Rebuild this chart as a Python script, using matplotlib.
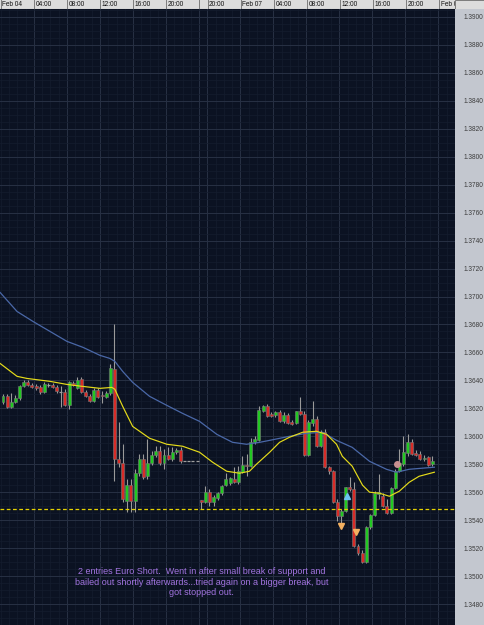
import numpy as np
import matplotlib.pyplot as plt
from matplotlib.patches import Rectangle

# 30-minute EUR/USD candles, Feb 04 -> Feb 07
opens = [1.36243, 1.36286, 1.36207, 1.36243, 1.36271, 1.36357, 1.36386, 1.36364, 1.36357, 1.36350,
         1.36314, 1.36364, 1.36364, 1.36350, 1.36314, 1.36314, 1.36221, 1.36379, 1.36343, 1.36407,
         1.36314, 1.36286, 1.36250, 1.36329, 1.36293, 1.36279, 1.36307, 1.36479, 1.35836, 1.35807,
         1.35536, 1.35650, 1.35536, 1.35736, 1.35836, 1.35714, 1.35807, 1.35864, 1.35893, 1.35807,
         1.35864, 1.35836, 1.35886, 1.35900, 1.35821, 1.35821, 1.35821, 1.35821, 1.35543, 1.35529,
         1.35600, 1.35529, 1.35557, 1.35593, 1.35650, 1.35664, 1.35693, 1.35671, 1.35743, 1.35793,
         1.35786, 1.35957, 1.35971, 1.36179, 1.36214, 1.36157, 1.36150, 1.36171, 1.36107, 1.36150,
         1.36100, 1.36093, 1.36179, 1.36157, 1.35864, 1.36093, 1.36121, 1.35929, 1.36029, 1.35779,
         1.35750, 1.35529, 1.35429, 1.35464, 1.35636, 1.35621, 1.35214, 1.35164, 1.35100, 1.35350,
         1.35436, 1.35586, 1.35571, 1.35500, 1.35450, 1.35629, 1.35750, 1.35800, 1.35879, 1.35957,
         1.35879, 1.35871, 1.35836, 1.35850, 1.35800]
highs = [1.36300, 1.36300, 1.36307, 1.36293, 1.36364, 1.36400, 1.36400, 1.36379, 1.36371, 1.36364,
         1.36386, 1.36379, 1.36379, 1.36364, 1.36357, 1.36336, 1.36393, 1.36393, 1.36421, 1.36421,
         1.36329, 1.36300, 1.36343, 1.36343, 1.36321, 1.36321, 1.36514, 1.36800, 1.36100, 1.35943,
         1.35693, 1.35693, 1.35764, 1.35871, 1.35871, 1.35979, 1.35893, 1.35929, 1.35929, 1.35907,
         1.35921, 1.35921, 1.35914, 1.35921, 1.35821, 1.35821, 1.35821, 1.35821, 1.35543, 1.35643,
         1.35621, 1.35579, 1.35600, 1.35650, 1.35736, 1.35707, 1.35779, 1.35786, 1.35857, 1.35871,
         1.35986, 1.36000, 1.36214, 1.36221, 1.36229, 1.36171, 1.36179, 1.36186, 1.36171, 1.36164,
         1.36114, 1.36179, 1.36279, 1.36179, 1.36114, 1.36250, 1.36143, 1.36043, 1.36050, 1.35786,
         1.35757, 1.35550, 1.35479, 1.35636, 1.35707, 1.35671, 1.35229, 1.35186, 1.35357, 1.35443,
         1.35607, 1.35729, 1.35593, 1.35550, 1.35636, 1.35764, 1.35907, 1.36000, 1.36014, 1.35979,
         1.35900, 1.35893, 1.35864, 1.35857, 1.35857]
lows = [1.36229, 1.36200, 1.36200, 1.36236, 1.36257, 1.36350, 1.36357, 1.36343, 1.36329, 1.36300,
        1.36307, 1.36350, 1.36343, 1.36307, 1.36207, 1.36214, 1.36193, 1.36357, 1.36336, 1.36307,
        1.36279, 1.36243, 1.36243, 1.36271, 1.36236, 1.36271, 1.36293, 1.35679, 1.35779, 1.35529,
        1.35457, 1.35457, 1.35457, 1.35714, 1.35693, 1.35693, 1.35793, 1.35850, 1.35793, 1.35764,
        1.35829, 1.35821, 1.35871, 1.35807, 1.35821, 1.35821, 1.35821, 1.35821, 1.35479, 1.35521,
        1.35500, 1.35500, 1.35543, 1.35579, 1.35643, 1.35650, 1.35664, 1.35657, 1.35736, 1.35714,
        1.35779, 1.35943, 1.35964, 1.36171, 1.36136, 1.36136, 1.36136, 1.36100, 1.36093, 1.36086,
        1.36079, 1.36086, 1.36150, 1.35857, 1.35857, 1.36071, 1.35921, 1.35921, 1.35771, 1.35729,
        1.35521, 1.35393, 1.35357, 1.35457, 1.35607, 1.35207, 1.35150, 1.35093, 1.35093, 1.35336,
        1.35429, 1.35550, 1.35493, 1.35443, 1.35443, 1.35621, 1.35743, 1.35786, 1.35857, 1.35864,
        1.35857, 1.35829, 1.35821, 1.35786, 1.35786]
closes = [1.36286, 1.36207, 1.36243, 1.36271, 1.36357, 1.36386, 1.36364, 1.36350, 1.36343, 1.36314,
          1.36371, 1.36364, 1.36350, 1.36321, 1.36314, 1.36221, 1.36386, 1.36364, 1.36400, 1.36314,
          1.36286, 1.36250, 1.36329, 1.36279, 1.36286, 1.36307, 1.36486, 1.35836, 1.35807, 1.35550,
          1.35650, 1.35536, 1.35736, 1.35836, 1.35707, 1.35807, 1.35864, 1.35893, 1.35807, 1.35864,
          1.35836, 1.35886, 1.35900, 1.35821, 1.35821, 1.35821, 1.35821, 1.35821, 1.35529, 1.35600,
          1.35529, 1.35564, 1.35593, 1.35643, 1.35693, 1.35700, 1.35671, 1.35750, 1.35793, 1.35786,
          1.35957, 1.35979, 1.36186, 1.36214, 1.36143, 1.36143, 1.36171, 1.36107, 1.36150, 1.36093,
          1.36086, 1.36179, 1.36157, 1.35864, 1.36100, 1.36121, 1.35929, 1.36029, 1.35779, 1.35750,
          1.35529, 1.35429, 1.35464, 1.35636, 1.35621, 1.35214, 1.35164, 1.35100, 1.35350, 1.35436,
          1.35593, 1.35600, 1.35500, 1.35450, 1.35629, 1.35750, 1.35807, 1.35886, 1.35957, 1.35871,
          1.35864, 1.35836, 1.35843, 1.35793, 1.35821]

# moving averages (bar position, price)
slow_ma_x = [-0.7, 3.4, 7.3, 11.4, 15.5, 19.4, 23.5, 25.9, 27.1, 29.0, 31.4, 35.5, 39.7, 43.5, 47.6,
             51.8, 55.6, 59.0, 62.2, 64.6, 69.4, 73.5, 77.4, 80.8, 84.6, 88.8, 92.9, 95.3, 98.4, 104.5]
slow_ma = [1.37029, 1.36893, 1.36821, 1.36750, 1.36679, 1.36636, 1.36579, 1.36557, 1.36536, 1.36464,
           1.36386, 1.36286, 1.36221, 1.36164, 1.36107, 1.36014, 1.35957, 1.35943, 1.35957, 1.35971,
           1.36000, 1.36021, 1.36029, 1.35971, 1.35921, 1.35821, 1.35764, 1.35743, 1.35764, 1.35779]
fast_ma_x = [-0.7, 3.4, 5.8, 11.4, 15.5, 19.3, 23.5, 26.4, 27.1, 29.0, 31.4, 35.5, 39.7, 43.5, 47.6,
             50.8, 54.2, 57.3, 59.7, 61.4, 64.6, 67.0, 69.4, 72.6, 75.9, 78.4, 80.8, 82.2, 84.6, 87.1,
             88.8, 91.2, 93.6, 96.0, 98.4, 100.8, 104.5]
fast_ma = [1.36521, 1.36429, 1.36414, 1.36393, 1.36371, 1.36357, 1.36343, 1.36350, 1.36336, 1.36214,
           1.36071, 1.35986, 1.35943, 1.35929, 1.35886, 1.35814, 1.35750, 1.35736, 1.35750, 1.35800,
           1.35886, 1.35957, 1.35993, 1.36029, 1.36036, 1.36014, 1.35943, 1.35857, 1.35786, 1.35650,
           1.35600, 1.35593, 1.35571, 1.35607, 1.35671, 1.35714, 1.35743]

support = 1.35479

# trade signals (bar position, price)
sell_x = [81.9, 85.4]
sell_y = [1.35357, 1.35314]
buy_x = [83.4]
buy_y = [1.35571]
exit_x = [95.5]
exit_y = [1.35800]

time_labels = ["Feb 04", "04:00", "08:00", "12:00", "16:00", "20:00", "", "20:00",
               "Feb 07", "04:00", "08:00", "12:00", "16:00", "20:00", "Feb 08"]
time_pos = [-0.5, 7.5, 15.5, 23.5, 31.5, 39.5, 47.5, 49.5, 57.5, 65.5, 73.5, 81.5, 89.5, 97.5, 105.5]

price_ticks = np.arange(1.3480, 1.39001, 0.002)

note = ("2 entries Euro Short.  Went in after small break of support and\n"
        "bailed out shortly afterwards...tried again on a bigger break, but\n"
        "got stopped out.")

W, H = 484, 625
fig = plt.figure(figsize=(W / 100, H / 100), dpi=100)
fig.patch.set_facecolor('#c3c7cf')

ax = fig.add_axes([0, 0, 455 / W, 616 / H])
ax.set_facecolor('#0b1222')
x0, x1 = -0.73, 109.3
ax.set_xlim(x0, x1)
ax.set_ylim(1.34657, 1.39057)

# grid
ax.set_xticks(time_pos[1:])
ax.set_xticks(np.arange(-0.5, 110, 2), minor=True)
ax.set_yticks(price_ticks)
ax.set_yticks(np.arange(1.3465, 1.3906, 0.0005), minor=True)
ax.grid(which='minor', color='#151d2e', lw=0.5)
ax.grid(which='major', color='#273044', lw=0.7)
ax.set_axisbelow(True)
ax.tick_params(axis='x', which='both', length=0, labelbottom=False)
ax.tick_params(axis='y', which='minor', length=0)
ax.yaxis.tick_right()
ax.tick_params(axis='y', which='major', length=0, pad=6, labelsize=4.7, labelcolor='#3c3c3c')
ax.set_yticklabels([f"{p:.4f}" for p in price_ticks], family='Liberation Sans')
for s in ax.spines.values():
    s.set_visible(False)

# candles
idx = np.arange(len(opens))
o = np.array(opens); c = np.array(closes)
ax.vlines(idx, lows, highs, color='#9a9a9a', lw=0.8, zorder=2)
up = c > o
dn = c < o
fl = c == o
ax.bar(idx[up], (c - o)[up], bottom=o[up], width=0.72, color='#22c822',
       edgecolor='#7a7a7a', lw=0.4, zorder=3)
ax.bar(idx[dn], (o - c)[dn], bottom=c[dn], width=0.72, color='#d82c28',
       edgecolor='#7a7a7a', lw=0.4, zorder=3)
ax.hlines(o[fl], idx[fl] - 0.36, idx[fl] + 0.36, color='#a0a0a0', lw=0.9, zorder=3)

# moving averages and support
ax.plot(slow_ma_x, slow_ma, color='#4a68a8', lw=0.9, zorder=4)
ax.plot(fast_ma_x, fast_ma, color='#e6dc1a', lw=0.85, zorder=4)
ax.axhline(support, color='#e6d200', lw=0.9, ls=(0, (3, 2)), zorder=4)

# signals
ax.plot(sell_x, sell_y, 'v', color='#f4b060', ms=4, mec='#f4b060', zorder=5)
ax.plot(buy_x, buy_y, '^', color='#6cc4f0', ms=4, mec='#6cc4f0', zorder=5)
ax.plot(exit_x, exit_y, 'o', color='#c89090', ms=4, mec='#c89090', zorder=5)

ax.text(48.1, 1.34957, note, color='#a274e0', fontsize=6.5, ha='center', va='center',
        linespacing=1.25, family='Liberation Sans', zorder=6)

# time header strip
hdr = fig.add_axes([0, 616 / H, 1, 9 / H])
hdr.set_facecolor('#dcdcdc')
hx1 = x0 + (x1 - x0) * W / 455
hdr.set_xlim(x0, hx1)
hdr.set_ylim(0, 1)
hdr.set_xticks([]); hdr.set_yticks([])
for s in hdr.spines.values():
    s.set_visible(False)
for p, lab in zip(time_pos, time_labels):
    hdr.axvline(p, color='#7c7c7c', lw=0.7)
    hdr.text(p + 0.35, 0.45, lab, fontsize=4.7, ha='left', va='center',
             color='#101010', family='Liberation Sans')
hdr.add_patch(Rectangle((x1, 0), hx1 - x1, 1, facecolor='#dcdcdc', edgecolor='#7c7c7c',
                        lw=0.7, zorder=5))
hdr.axhline(0, color='#7c7c7c', lw=0.8)

fig.savefig('out.png', dpi=100, facecolor=fig.get_facecolor())
